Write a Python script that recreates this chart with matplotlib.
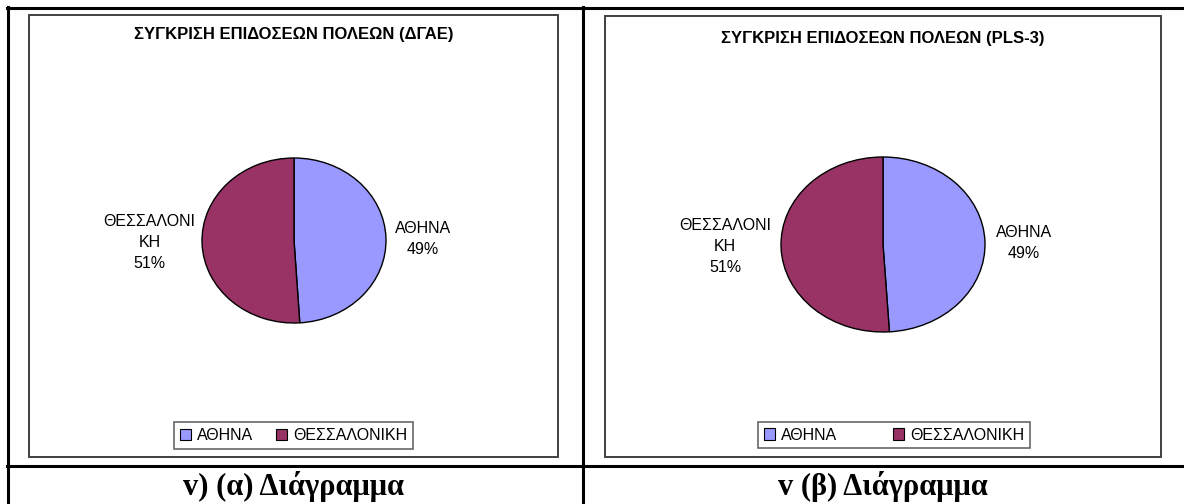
import numpy as np
import matplotlib
matplotlib.use("Agg")
import matplotlib.pyplot as plt
from matplotlib.patches import Rectangle, Patch
from matplotlib.lines import Line2D

# data
cities = ["ΑΘΗΝΑ", "ΘΕΣΣΑΛΟΝΙΚΗ"]
label_text = ["ΑΘΗΝΑ", "ΘΕΣΣΑΛΟΝΙ\nΚΗ"]
share_dgae = [49, 51]
share_pls3 = [49, 51]
titles = ["ΣΥΓΚΡΙΣΗ ΕΠΙΔΟΣΕΩΝ ΠΟΛΕΩΝ (ΔΓΑΕ)", "ΣΥΓΚΡΙΣΗ ΕΠΙΔΟΣΕΩΝ ΠΟΛΕΩΝ (PLS-3)"]
captions = ["v) (α) Διάγραμμα", "v (β) Διάγραμμα"]

colors = ["#9999FF", "#993366"]

W, H = 1184, 504
plt.rcParams['font.family'] = ['Liberation Sans', 'DejaVu Sans']

fig = plt.figure(figsize=(W / 100, H / 100), dpi=100)


def fx(x):
    return x / W


def fy(y):
    return 1 - y / H


def hline(y, x0, x1, lw=2.2, c="black"):
    fig.add_artist(Line2D([fx(x0), fx(x1)], [fy(y), fy(y)], color=c, lw=lw,
                          transform=fig.transFigure))


def vline(x, y0, y1, lw=2.2, c="black"):
    fig.add_artist(Line2D([fx(x), fx(x)], [fy(y0), fy(y1)], color=c, lw=lw,
                          transform=fig.transFigure))


# table grid
hline(8, 7, W)
hline(466, 7, W)
vline(8, 7, H)
vline(583, 7, H)

# panel layout: chart box, pie box, title pos, legend box, label distances
panels = [
    dict(box=(29, 15, 558, 457), pie=(202, 158, 386, 323), title_y=35,
         leg=(174, 420, 413, 451), dist=(1.40, 1.57), data=share_dgae),
    dict(box=(605, 16, 1161, 457), pie=(781, 157, 985, 332), title_y=39,
         leg=(758, 418, 1030, 452), dist=(1.38, 1.55), data=share_pls3),
]

for i, p in enumerate(panels):
    x0, y0, x1, y1 = p["box"]
    fig.add_artist(Rectangle((fx(x0), fy(y1)), fx(x1 - x0), (y1 - y0) / H,
                             transform=fig.transFigure, fill=False,
                             edgecolor="#404040", lw=1.4))
    cx = (x0 + x1) / 2
    fig.text(fx(cx), fy(p["title_y"]), titles[i], ha="center", va="center",
             fontsize=12, fontweight="bold")

    px0, py0, px1, py1 = p["pie"]
    ax = fig.add_axes([fx(px0), fy(py1), fx(px1 - px0), (py1 - py0) / H])
    wedges, _ = ax.pie(p["data"], colors=colors, startangle=90, counterclock=False,
                       radius=1, wedgeprops=dict(edgecolor="black", linewidth=1.0))
    ax.set_aspect("auto")
    ax.set_xlim(-1, 1)
    ax.set_ylim(-1, 1)
    ax.axis("off")

    total = sum(p["data"])
    for w, name, val, d in zip(wedges, label_text, p["data"], p["dist"]):
        mid = np.deg2rad((w.theta1 + w.theta2) / 2)
        ax.text(d * np.cos(mid), d * np.sin(mid) * 0.5,
                f"{name}\n{round(100 * val / total)}%",
                ha="center", va="center", fontsize=11.5, linespacing=1.5,
                clip_on=False)

    lx0, ly0, lx1, ly1 = p["leg"]
    handles = [Patch(facecolor=c, edgecolor="black", lw=0.8) for c in colors]
    leg = fig.legend(handles, cities, loc="center", ncol=2, mode="expand",
                     bbox_to_anchor=(fx(lx0), fy(ly1), fx(lx1 - lx0), (ly1 - ly0) / H),
                     bbox_transform=fig.transFigure, fontsize=11.5,
                     handlelength=0.7, handleheight=0.7, handletextpad=0.4,
                     borderaxespad=0, borderpad=0.35, fancybox=False)
    leg.get_frame().set_edgecolor("#404040")
    leg.get_frame().set_linewidth(1.2)

    fig.text(fx(cx), fy(486), captions[i], ha="center", va="center",
             fontsize=22, fontweight="bold", family="Liberation Serif")

fig.savefig("out.png", dpi=100)
